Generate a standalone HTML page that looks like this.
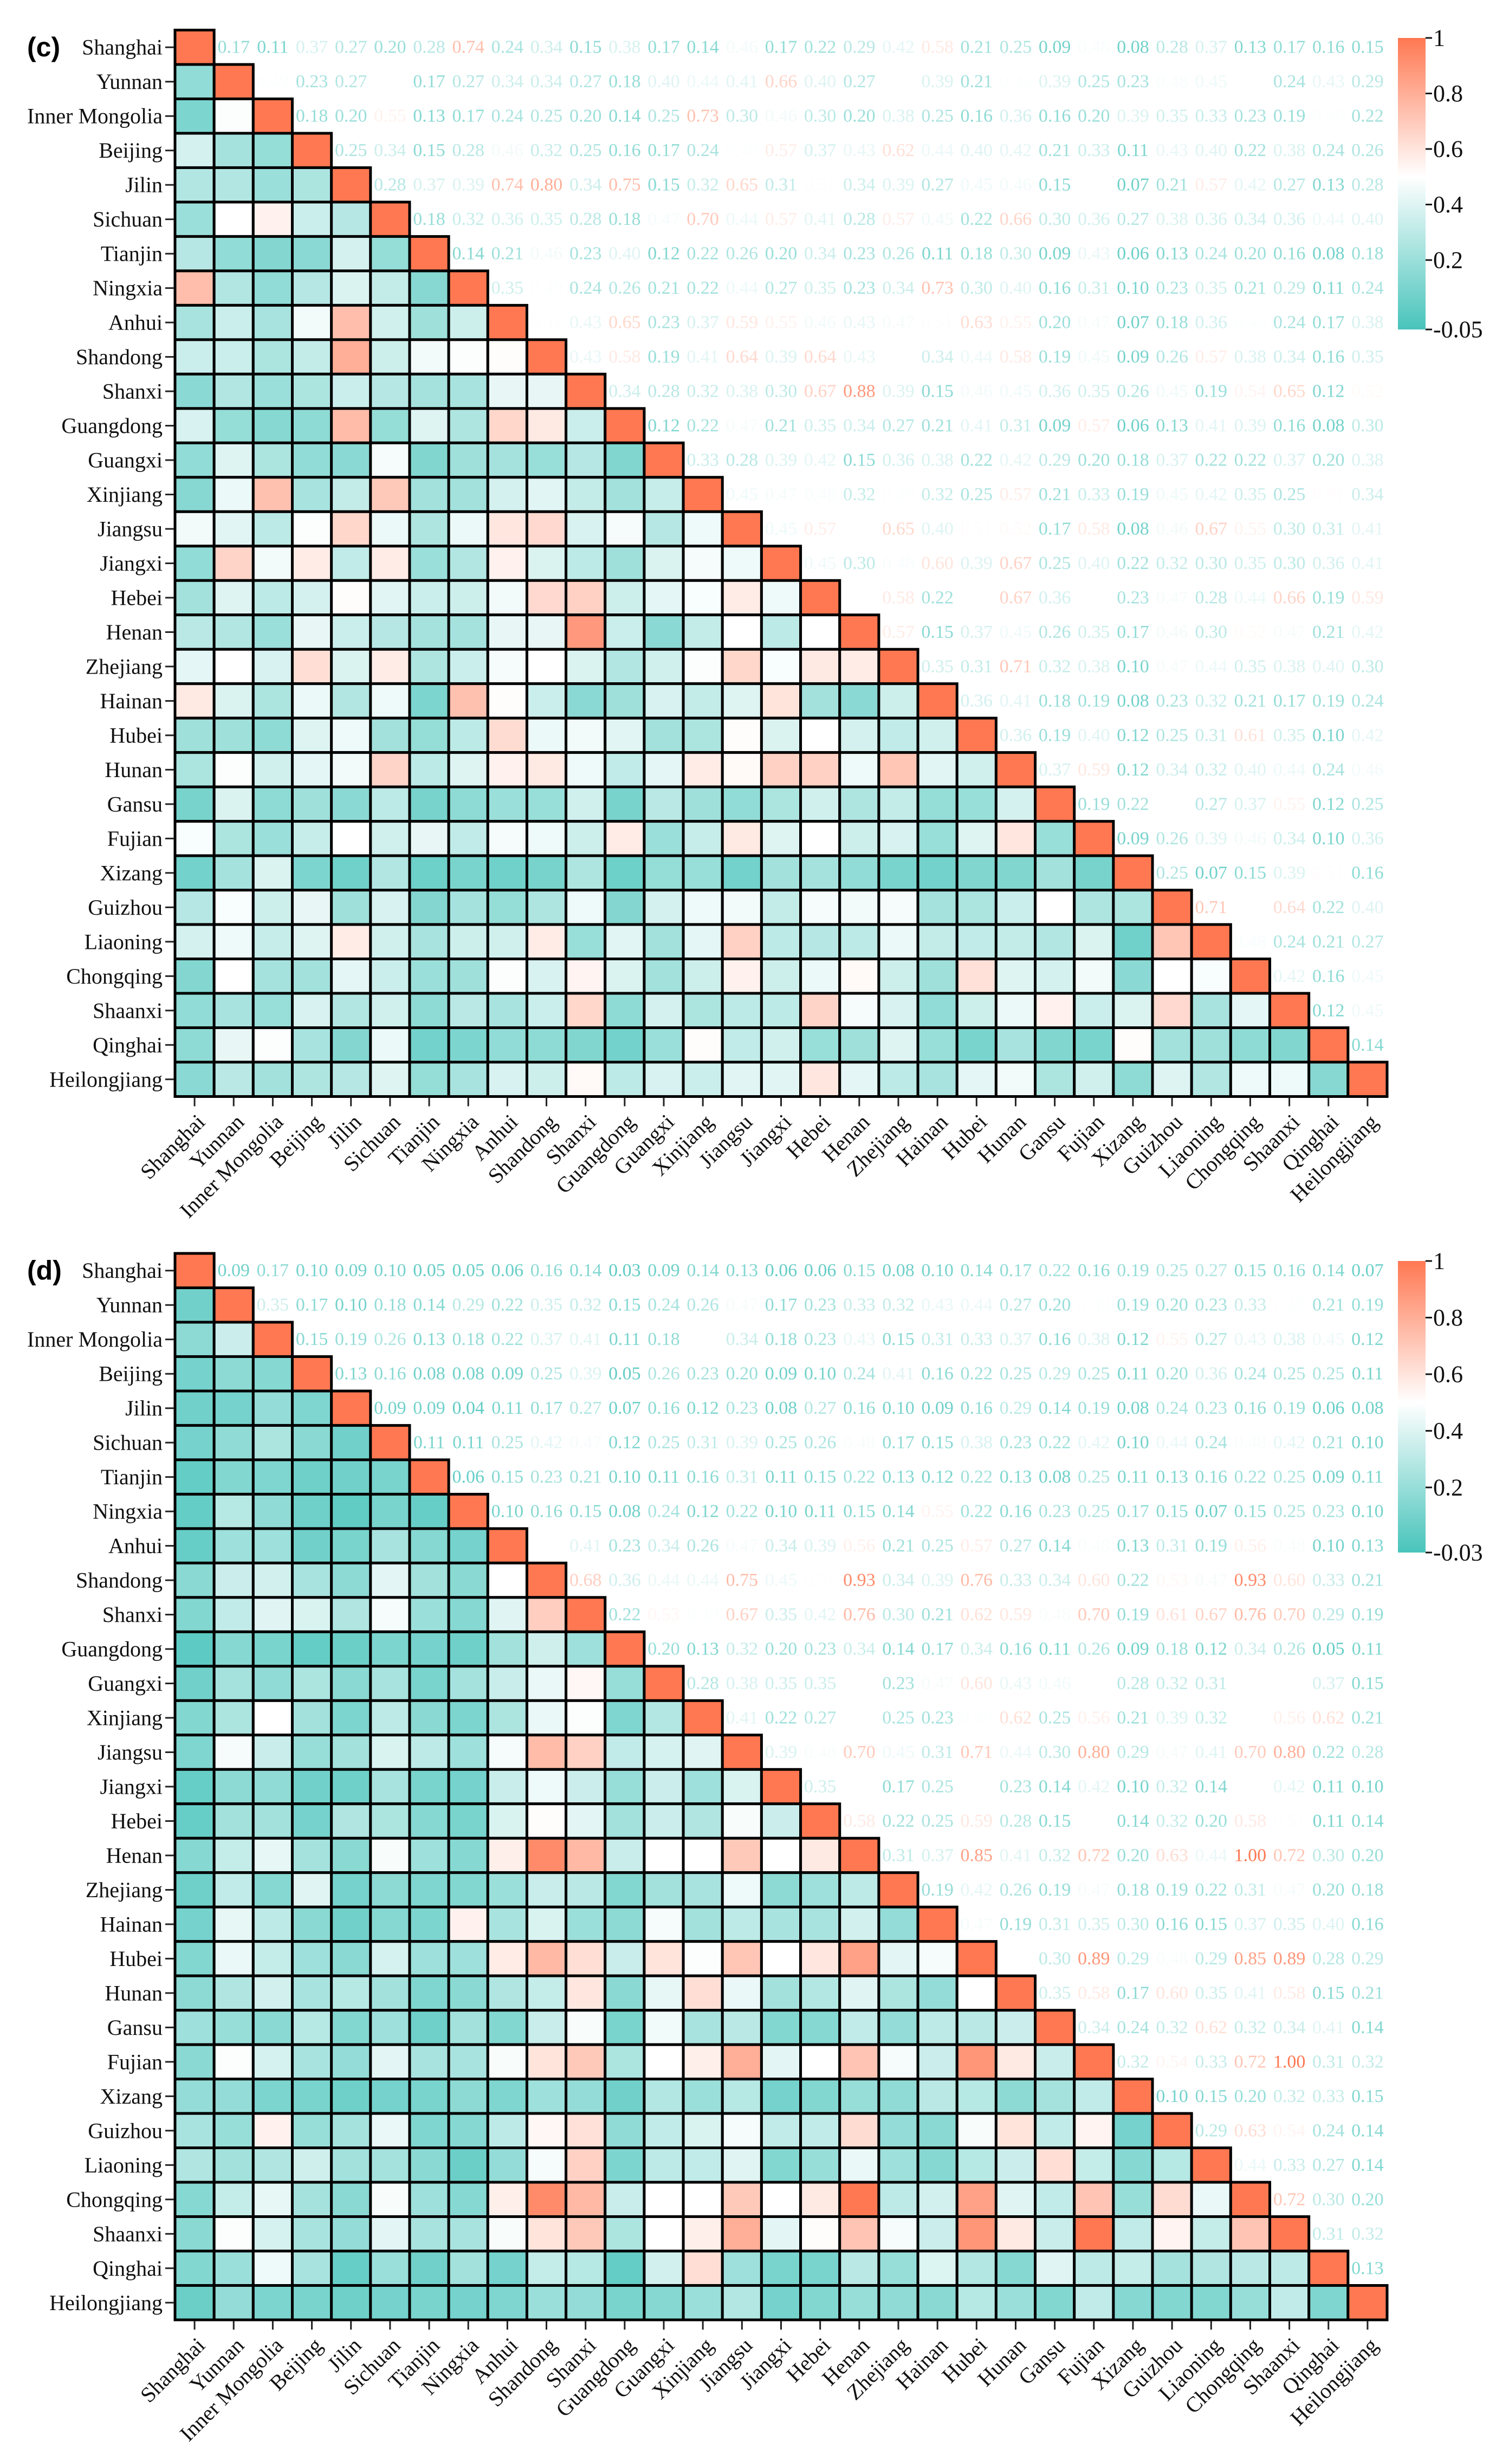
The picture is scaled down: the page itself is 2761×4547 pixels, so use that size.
<!DOCTYPE html>
<html>
<head>
<meta charset="utf-8">
<style>
  html,body{margin:0;padding:0;background:#fff;}
  svg{display:block;}
  text{font-family:"Liberation Serif","DejaVu Serif",serif;}
</style>
</head>
<body>
<svg id="fig" xmlns="http://www.w3.org/2000/svg" width="2761" height="4547" viewBox="0 0 2761 4547">
  <defs>
    <linearGradient id="gradC" x1="0" y1="1" x2="0" y2="0"></linearGradient>
    <linearGradient id="gradD" x1="0" y1="1" x2="0" y2="0"></linearGradient>
  </defs>
</svg>
<script>
const provinces = ["Shanghai","Yunnan","Inner Mongolia","Beijing","Jilin","Sichuan","Tianjin","Ningxia","Anhui","Shandong","Shanxi","Guangdong","Guangxi","Xinjiang","Jiangsu","Jiangxi","Hebei","Henan","Zhejiang","Hainan","Hubei","Hunan","Gansu","Fujian","Xizang","Guizhou","Liaoning","Chongqing","Shaanxi","Qinghai","Heilongjiang"];

const upperC = [
[.17,.11,.37,.27,.20,.28,.74,.24,.34,.15,.38,.17,.14,.46,.17,.22,.29,.42,.58,.21,.25,.09,.48,.08,.28,.37,.13,.17,.16,.15],
[.49,.23,.27,.50,.17,.27,.34,.34,.27,.18,.40,.44,.41,.66,.40,.27,.50,.39,.21,.49,.39,.25,.23,.48,.45,.50,.24,.43,.29],
[.18,.20,.55,.13,.17,.24,.25,.20,.14,.25,.73,.30,.46,.30,.20,.38,.25,.16,.36,.16,.20,.39,.35,.33,.23,.19,.49,.22],
[.25,.34,.15,.28,.46,.32,.25,.16,.17,.24,.49,.57,.37,.43,.62,.44,.40,.42,.21,.33,.11,.43,.40,.22,.38,.24,.26],
[.28,.37,.39,.74,.80,.34,.75,.15,.32,.65,.31,.51,.34,.39,.27,.45,.46,.15,.50,.07,.21,.57,.42,.27,.13,.28],
[.18,.32,.36,.35,.28,.18,.47,.70,.44,.57,.41,.28,.57,.45,.22,.66,.30,.36,.27,.38,.36,.34,.36,.44,.40],
[.14,.21,.46,.23,.40,.12,.22,.26,.20,.34,.23,.26,.11,.18,.30,.09,.43,.06,.13,.24,.20,.16,.08,.18],
[.35,.49,.24,.26,.21,.22,.44,.27,.35,.23,.34,.73,.30,.40,.16,.31,.10,.23,.35,.21,.29,.11,.24],
[.51,.43,.65,.23,.37,.59,.55,.46,.43,.47,.51,.63,.55,.20,.47,.07,.18,.36,.49,.24,.17,.38],
[.43,.58,.19,.41,.64,.39,.64,.43,.50,.34,.44,.58,.19,.45,.09,.26,.57,.38,.34,.16,.35],
[.34,.28,.32,.38,.30,.67,.88,.39,.15,.46,.45,.36,.35,.26,.45,.19,.54,.65,.12,.52],
[.12,.22,.47,.21,.35,.34,.27,.21,.41,.31,.09,.57,.06,.13,.41,.39,.16,.08,.30],
[.33,.28,.39,.42,.15,.36,.38,.22,.42,.29,.20,.18,.37,.22,.22,.37,.20,.38],
[.45,.47,.48,.32,.49,.32,.25,.57,.21,.33,.19,.45,.42,.35,.25,.51,.34],
[.45,.57,.50,.65,.40,.51,.52,.17,.58,.08,.46,.67,.55,.30,.31,.41],
[.45,.30,.48,.60,.39,.67,.25,.40,.22,.32,.30,.35,.30,.36,.41],
[.50,.58,.22,.50,.67,.36,.50,.23,.47,.28,.44,.66,.19,.59],
[.57,.15,.37,.45,.26,.35,.17,.46,.30,.52,.47,.21,.42],
[.35,.31,.71,.32,.38,.10,.47,.44,.35,.38,.40,.30],
[.36,.41,.18,.19,.08,.23,.32,.21,.17,.19,.24],
[.36,.19,.40,.12,.25,.31,.61,.35,.10,.42],
[.37,.59,.12,.34,.32,.40,.44,.24,.46],
[.19,.22,.50,.27,.37,.55,.12,.25],
[.09,.26,.39,.46,.34,.10,.36],
[.25,.07,.15,.39,.51,.16],
[.71,.50,.64,.22,.40],
[.48,.24,.21,.27],
[.42,.16,.45],
[.12,.45],
[.14]
];

const upperD = [
[.09,.17,.10,.09,.10,.05,.05,.06,.16,.14,.03,.09,.14,.13,.06,.06,.15,.08,.10,.14,.17,.22,.16,.19,.25,.27,.15,.16,.14,.07],
[.35,.17,.10,.18,.14,.29,.22,.35,.32,.15,.24,.26,.47,.17,.23,.33,.32,.43,.44,.27,.20,.49,.19,.20,.23,.33,.49,.21,.19],
[.15,.19,.26,.13,.18,.22,.37,.41,.11,.18,.50,.34,.18,.23,.43,.15,.31,.33,.37,.16,.38,.12,.55,.27,.43,.38,.45,.12],
[.13,.16,.08,.08,.09,.25,.39,.05,.26,.23,.20,.09,.10,.24,.41,.16,.22,.25,.29,.25,.11,.20,.36,.24,.25,.25,.11],
[.09,.09,.04,.11,.17,.27,.07,.16,.12,.23,.08,.27,.16,.10,.09,.16,.29,.14,.19,.08,.24,.23,.16,.19,.06,.08],
[.11,.11,.25,.42,.47,.12,.25,.31,.39,.25,.26,.48,.17,.15,.38,.23,.22,.42,.10,.44,.24,.48,.42,.21,.10],
[.06,.15,.23,.21,.10,.11,.16,.31,.11,.15,.22,.13,.12,.22,.13,.08,.25,.11,.13,.16,.22,.25,.09,.11],
[.10,.16,.15,.08,.24,.12,.22,.10,.11,.15,.14,.55,.22,.16,.23,.25,.17,.15,.07,.15,.25,.23,.10],
[.50,.41,.23,.34,.26,.47,.34,.39,.56,.21,.25,.57,.27,.14,.48,.13,.31,.19,.56,.48,.10,.13],
[.68,.36,.44,.44,.75,.45,.51,.93,.34,.39,.76,.33,.34,.60,.22,.53,.47,.93,.60,.33,.21],
[.22,.53,.49,.67,.35,.42,.76,.30,.21,.62,.59,.48,.70,.19,.61,.67,.76,.70,.29,.19],
[.20,.13,.32,.20,.23,.34,.14,.17,.34,.16,.11,.26,.09,.18,.12,.34,.26,.05,.11],
[.28,.38,.35,.35,.50,.23,.47,.60,.43,.46,.50,.28,.32,.31,.50,.50,.37,.15],
[.41,.22,.27,.50,.25,.23,.49,.62,.25,.56,.21,.39,.32,.50,.56,.62,.21],
[.39,.48,.70,.45,.31,.71,.44,.30,.80,.29,.47,.41,.70,.80,.22,.28],
[.35,.50,.17,.25,.50,.23,.14,.42,.10,.32,.14,.50,.42,.11,.10],
[.58,.22,.25,.59,.28,.15,.50,.14,.32,.20,.58,.51,.11,.14],
[.31,.37,.85,.41,.32,.72,.20,.63,.44,1.00,.72,.30,.20],
[.19,.42,.26,.19,.47,.18,.19,.22,.31,.47,.20,.18],
[.47,.19,.31,.35,.30,.16,.15,.37,.35,.40,.16],
[.50,.30,.89,.29,.48,.29,.85,.89,.28,.29],
[.35,.58,.17,.60,.35,.41,.58,.15,.21],
[.34,.24,.32,.62,.32,.34,.41,.14],
[.32,.54,.33,.72,1.00,.31,.32],
[.10,.15,.20,.32,.33,.15],
[.29,.63,.54,.24,.14],
[.44,.33,.27,.14],
[.72,.30,.20],
[.31,.32],
[.13]
];

const ticksC = [1, 0.8, 0.6, 0.4, 0.2, -0.05];
const ticksD = [1, 0.8, 0.6, 0.4, 0.2, -0.03];
const minC = -0.05;
const minD = -0.03;

const NS = "http://www.w3.org/2000/svg";
const svg = document.getElementById("fig");
const TEAL = [72,196,187], WHITE = [255,255,255], CORAL = [255,120,82];
const MID = 0.5;

function mix(a,b,t){ t=Math.max(0,Math.min(1,t)); return "rgb("+a.map((x,i)=>Math.round(x+(b[i]-x)*t)).join(",")+")"; }
function cmap(v, vmin){
  if (v < MID) return mix(TEAL, WHITE, (v - vmin)/(MID - vmin));
  return mix(WHITE, CORAL, (v - MID)/(1 - MID));
}
function mk(tag, attrs, parent){
  const el = document.createElementNS(NS, tag);
  for (const k in attrs) el.setAttribute(k, attrs[k]);
  (parent||svg).appendChild(el);
  return el;
}
function fullMatrix(upper){
  const n = upper.length + 1;
  const M = [];
  for (let i=0;i<n;i++){ M.push(new Array(n).fill(1)); }
  for (let i=0;i<upper.length;i++){
    for (let k=0;k<upper[i].length;k++){
      const j = i+1+k;
      M[i][j] = upper[i][k];
      M[j][i] = upper[i][k];
    }
  }
  return M;
}

function drawPanel(opts){
  const M = fullMatrix(opts.upper);
  const n = M.length;
  const x0 = 323, cw = (2560-323)/n, ch = 1968/n, y0 = opts.top;
  const xs = j => x0 + cw*j;
  const ys = i => y0 + ch*i;
  const g = mk("g", {});
  
  

  // panel label
  const lab = mk("text", {x: 50, y: ys(0)+ch/2, "dominant-baseline":"central", "font-size": 50, "font-weight":"bold", style:'font-family:"Liberation Sans",sans-serif'}, g);
  lab.textContent = opts.label;
  
  

  for (let i=0;i<n;i++){
    for (let j=0;j<n;j++){
      const v = M[i][j];
      if (j <= i){
        const r = mk("rect", {x: xs(j), y: ys(i), width: cw, height: ch, fill: cmap(v, opts.vmin), stroke:"#000", "stroke-width": 5}, g);
        
        
      } else {
        const t = mk("text", {x: xs(j)+cw/2, y: ys(i)+ch/2, "text-anchor":"middle", "dominant-baseline":"central", "font-size": 34, fill: cmap(v, opts.vmin)}, g);
        t.textContent = v.toFixed(2);
        
        
      }
    }
  }
  // y axis labels
  for (let i=0;i<n;i++){
    const cy = ys(i)+ch/2;
    const tk = mk("line", {x1: 305, x2: 321, y1: cy, y2: cy, stroke:"#222", "stroke-width": 3}, g);
    
    
    const t = mk("text", {x: 300, y: cy, "text-anchor":"end", "dominant-baseline":"central", "font-size": 40, fill:"#111"}, g);
    t.textContent = provinces[i];
    
    
  }
  // x axis labels
  const yb = ys(n);
  for (let j=0;j<n;j++){
    const cx = xs(j)+cw/2;
    const tk = mk("line", {x1: cx, x2: cx, y1: yb+2, y2: yb+18, stroke:"#222", "stroke-width": 3}, g);
    
    
    const t = mk("text", {x: cx+12, y: yb+40, "text-anchor":"end", "dominant-baseline":"central", "font-size": 40, fill:"#111", transform:"rotate(-45 "+(cx+12)+" "+(yb+40)+")"}, g);
    t.textContent = provinces[j];
    
    
  }

  // colorbar
  const grad = document.getElementById(opts.grad);
  const stops = [[0, cmap(opts.vmin, opts.vmin)], [(MID-opts.vmin)/(1-opts.vmin), "rgb(255,255,255)"], [1, cmap(1, opts.vmin)]];
  stops.forEach(s => { mk("stop", {offset: s[0], "stop-color": s[1]}, grad); });
  const cbTop = opts.cbTop, cbBot = opts.cbTop + 538;
  const cy = v => cbTop + (1 - v)/(1 - opts.vmin)*(cbBot - cbTop);
  const cb = mk("rect", {x: 2580, y: cbTop, width: 51, height: cbBot-cbTop, fill: "url(#"+opts.grad+")"}, g);
  
  
  opts.ticks.forEach(tv => {
    const y = cy(tv);
    const l = mk("line", {x1: 2631, x2: 2643, y1: y, y2: y, stroke:"#111", "stroke-width": 3}, g);
    
    
    const t = mk("text", {x: 2645, y: y, "dominant-baseline":"central", "font-size": 44, fill:"#111"}, g);
    t.textContent = String(tv);
    
    
  });
}

drawPanel({upper: upperC, vmin: minC, ticks: ticksC, top: 55.5, cbTop: 70, grad: "gradC", label: "(c)", name: "panel-c"});
drawPanel({upper: upperD, vmin: minD, ticks: ticksD, top: 2313, cbTop: 2327, grad: "gradD", label: "(d)", name: "panel-d"});
</script>
</body>
</html>
